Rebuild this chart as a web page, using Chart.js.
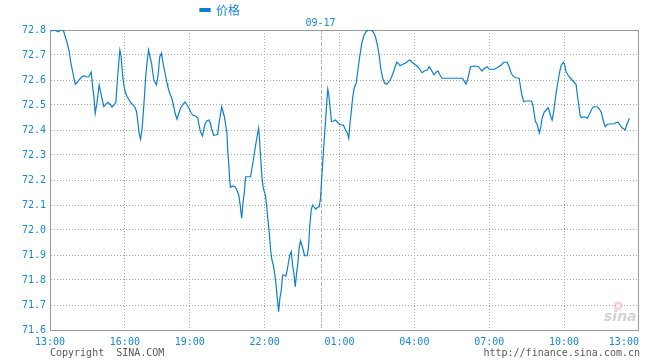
<!DOCTYPE html>
<html><head><meta charset="utf-8">
<script src="https://cdn.jsdelivr.net/npm/chart.js@4/dist/chart.umd.min.js"></script>
<style>html,body{margin:0;padding:0;background:#fff;}#wrap{width:660px;height:360px;}</style>
</head><body><div id="wrap"><canvas id="c" width="660" height="360"></canvas></div>
<script>
const seriesName = '价格';
const dateLabel = '09-17';
const copyrightText = 'Copyright  SINA.COM';
const urlText = 'http://finance.sina.com.cn';
const tickSlots = [0, 75, 140, 215, 290, 365, 440, 515, 590];
const tickLabels = ['13:00', '16:00', '19:00', '22:00', '01:00', '04:00', '07:00', '10:00', '13:00'];
const dateBreakSlot = 271;
const yMin = 71.6, yMax = 72.8, yStep = 0.1;

const timeSlots = [
1,4.7,8,10.7,13.3,15.3,17.3,19.3,20.7,22.7,24,25.3,27.3,29.3,32,34,36.7,38.7,41.3,42.7,44,45.3,46.7,48,49.3,50.7,52,54,56,58,60,62,64,66,67.3,68.7,70,71.3,72.7,74,75.3,77.3,79.3,81.3,83.3,85.3,86.7,88,89.3,90.7,92,93.3,94.7,96,97.3,98.7,101.7,104,106.7,108.3,110,111.7,113.3,115.3,117.3,118,120,122,124,125.3,127.3,128.7,130.7,132.7,135.3,137.3,139.3,141.3,143.3,146,148,149.3,150.7,152.7,154,155.3,157.3,159.3,160.7,162,164,166,168,169.3,170.7,172,173.3,174.7,176,177.3,178,179.3,180,180.7,183.3,185.3,187.3,189.3,190.7,192,193.3,194.7,196,201,202.3,203.7,205,206.3,207.7,209,209.7,211,212.3,213.7,215.7,217,218.3,219.7,221,222.3,223.7,225,226.3,227.7,229,230.3,231.7,233,234.3,236.3,237.7,239,240.3,241.7,243,244.3,245.7,247,248.3,249.7,251,252.3,253.7,255,257.7,259,260.3,261.7,263,264.3,266.3,267.7,269.7,271,272.3,273.7,274.7,276,277.3,278.3,279.3,280.7,282,284,286,288,290,292,294,296,298,299.3,300.7,302,303.3,304.7,306.7,308.7,310,311.3,312.7,314.7,316.7,318.7,322,324,326,328,330,331.3,333.3,335.3,337.3,339.3,341.3,343.3,345.3,347.3,348.7,350.7,353.3,356,358.7,360.7,362.7,365.3,367.3,369.3,372.7,375.3,378,380,382,384.7,386.7,388.7,390.7,392.7,413.3,416.7,418.7,421.3,425.3,429.3,432.7,435.3,438,440,445.3,448.7,452,454.7,458,460,462,464.7,466.7,470,471.3,472.7,474.7,476.7,482.3,483.7,485,486.3,487.7,489,490.3,491.7,493,495,497,499,500.3,501.7,503,504.3,505.7,507,508.3,509.7,511,512.3,514.3,515.7,517,519,521,523,525,527,528.3,529.7,531,532.3,533.7,535,537,538.3,540.3,542.3,544.3,546.3,548.3,550.3,552.3,553.7,555,556.3,558.3,560.3,562.3,565,567,569,571,573,575,576.3,577.7,579,580.3
];
const prices = [
72.796,72.800,72.793,72.800,72.800,72.773,72.747,72.713,72.673,72.633,72.607,72.583,72.591,72.601,72.613,72.617,72.612,72.613,72.631,72.573,72.533,72.467,72.500,72.540,72.580,72.553,72.527,72.493,72.503,72.511,72.503,72.492,72.500,72.511,72.587,72.660,72.719,72.693,72.620,72.580,72.553,72.533,72.520,72.507,72.500,72.489,72.473,72.433,72.387,72.363,72.393,72.460,72.540,72.620,72.673,72.720,72.667,72.600,72.580,72.620,72.693,72.707,72.667,72.627,72.587,72.573,72.547,72.527,72.493,72.467,72.443,72.463,72.487,72.500,72.512,72.500,72.487,72.469,72.459,72.456,72.447,72.420,72.393,72.376,72.400,72.424,72.437,72.440,72.427,72.403,72.379,72.380,72.383,72.427,72.460,72.493,72.473,72.453,72.420,72.387,72.320,72.253,72.200,72.171,72.176,72.173,72.160,72.136,72.093,72.047,72.107,72.153,72.213,72.213,72.247,72.280,72.313,72.347,72.380,72.407,72.373,72.293,72.213,72.167,72.140,72.100,72.040,71.987,71.920,71.880,71.860,71.827,71.787,71.727,71.673,71.727,71.760,71.820,71.820,71.816,71.840,71.873,71.900,71.913,71.860,71.827,71.773,71.827,71.867,71.933,71.957,71.940,71.920,71.897,71.897,71.933,72.020,72.080,72.100,72.093,72.083,72.090,72.093,72.127,72.213,72.300,72.360,72.433,72.513,72.563,72.540,72.487,72.433,72.436,72.440,72.431,72.423,72.420,72.420,72.400,72.387,72.367,72.433,72.480,72.533,72.567,72.587,72.647,72.687,72.720,72.753,72.780,72.793,72.800,72.800,72.791,72.773,72.740,72.693,72.647,72.607,72.587,72.583,72.591,72.604,72.623,72.647,72.671,72.667,72.657,72.663,72.667,72.676,72.680,72.671,72.663,72.657,72.649,72.629,72.637,72.640,72.653,72.640,72.620,72.631,72.636,72.620,72.607,72.607,72.584,72.607,72.653,72.656,72.653,72.636,72.647,72.653,72.643,72.643,72.651,72.660,72.671,72.671,72.653,72.627,72.613,72.609,72.607,72.573,72.540,72.513,72.516,72.516,72.500,72.467,72.433,72.427,72.407,72.389,72.413,72.447,72.471,72.480,72.489,72.473,72.453,72.440,72.467,72.507,72.547,72.580,72.613,72.640,72.660,72.671,72.660,72.633,72.620,72.609,72.600,72.591,72.583,72.540,72.500,72.460,72.449,72.452,72.453,72.451,72.447,72.463,72.480,72.493,72.493,72.492,72.484,72.471,72.447,72.427,72.413,72.423,72.424,72.424,72.425,72.429,72.431,72.420,72.409,72.404,72.401,72.420,72.433,72.447
];

const BLUE = '#1a86d6';
const LINE = '#0a7fd0';
const MONO = '"DejaVu Sans Mono", "Liberation Mono", monospace';

const points = timeSlots.map((x, i) => ({ x: x, y: prices[i] }));

const decor = {
  id: 'decor',
  afterLayout(chart) {
    const lg = chart.legend;
    if (lg) { lg.left = 192; lg.top -= 4; lg.bottom -= 4; }
  },
  beforeDraw(chart) {
    const items = chart.scales.x.getLabelItems();
    if (items.length) items[items.length - 1].options.textAlign = 'right';
  },
  beforeDatasetsDraw(chart) {
    const { ctx, chartArea: a, scales } = chart;
    ctx.save();
    // date separator
    const dx = Math.round(scales.x.getPixelForValue(dateBreakSlot)) + 0.5;
    ctx.strokeStyle = '#b0b0b0'; ctx.lineWidth = 1; ctx.setLineDash([4, 2]);
    ctx.beginPath(); ctx.moveTo(dx, a.top); ctx.lineTo(dx, a.bottom); ctx.stroke();
    ctx.setLineDash([]);
    // frame
    ctx.strokeStyle = '#9a9a9a';
    ctx.strokeRect(a.left + 0.5, a.top + 0.5, a.right - a.left - 1, a.bottom - a.top);
    // watermark
    ctx.fillStyle = 'rgba(240,120,130,0.35)';
    ctx.beginPath(); ctx.arc(618, 306, 4.5, 0, Math.PI * 2); ctx.fill();
    ctx.fillStyle = '#fff';
    ctx.beginPath(); ctx.arc(618, 306, 1.8, 0, Math.PI * 2); ctx.fill();
    ctx.fillStyle = 'rgba(160,160,160,0.45)';
    ctx.font = 'italic bold 14px "DejaVu Sans", sans-serif';
    ctx.textAlign = 'left'; ctx.textBaseline = 'alphabetic';
    ctx.fillText('sina', 604, 321);
    ctx.restore();
  },
  afterDraw(chart) {
    const { ctx, scales } = chart;
    ctx.save();
    ctx.font = '10px ' + MONO;
    ctx.textBaseline = 'alphabetic';
    ctx.fillStyle = BLUE; ctx.textAlign = 'center';
    ctx.fillText(dateLabel, scales.x.getPixelForValue(dateBreakSlot), 26);
    ctx.fillStyle = '#5a5a5a'; ctx.textAlign = 'left';
    ctx.fillText(copyrightText, 50, 356);
    ctx.textAlign = 'right';
    ctx.fillText(urlText, 640, 356);
    ctx.restore();
  }
};

new Chart(document.getElementById('c'), {
  type: 'line',
  data: {
    datasets: [{
      label: seriesName,
      data: points,
      borderColor: LINE,
      backgroundColor: LINE,
      borderWidth: 1.2,
      pointRadius: 0,
      tension: 0,
      fill: false
    }]
  },
  options: {
    responsive: false,
    animation: false,
    devicePixelRatio: 1,
    events: [],
    layout: { padding: { left: 0, right: 20, top: 0, bottom: 0 } },
    plugins: {
      legend: {
        display: true,
        position: 'top',
        align: 'start',
        labels: {
          boxWidth: 10, boxHeight: 3, padding: 8, color: BLUE,
          font: { family: '"Noto Sans CJK SC", sans-serif', size: 12 }
        }
      },
      tooltip: { enabled: false }
    },
    scales: {
      x: {
        type: 'linear',
        min: tickSlots[0], max: tickSlots[tickSlots.length - 1],
        afterBuildTicks: s => { s.ticks = tickSlots.map(v => ({ value: v })); },
        afterFit: s => { s.height = 30; },
        ticks: {
          autoSkip: false, maxRotation: 0, padding: 6, color: BLUE,
          font: { family: MONO, size: 10 },
          callback: v => tickLabels[tickSlots.indexOf(v)]
        },
        grid: { color: '#aaaaaa', lineWidth: 1, drawTicks: false },
        border: { display: true, color: '#9a9a9a', dash: [1, 2] }
      },
      y: {
        min: yMin, max: yMax,
        afterFit: s => { s.width = 50; },
        ticks: {
          stepSize: yStep, padding: 4, color: BLUE,
          font: { family: MONO, size: 10 },
          callback: v => Number(v).toFixed(1)
        },
        grid: { color: '#aaaaaa', lineWidth: 1, drawTicks: false },
        border: { display: true, color: '#9a9a9a', dash: [1, 2] }
      }
    }
  },
  plugins: [decor]
});
</script>
</body></html>
